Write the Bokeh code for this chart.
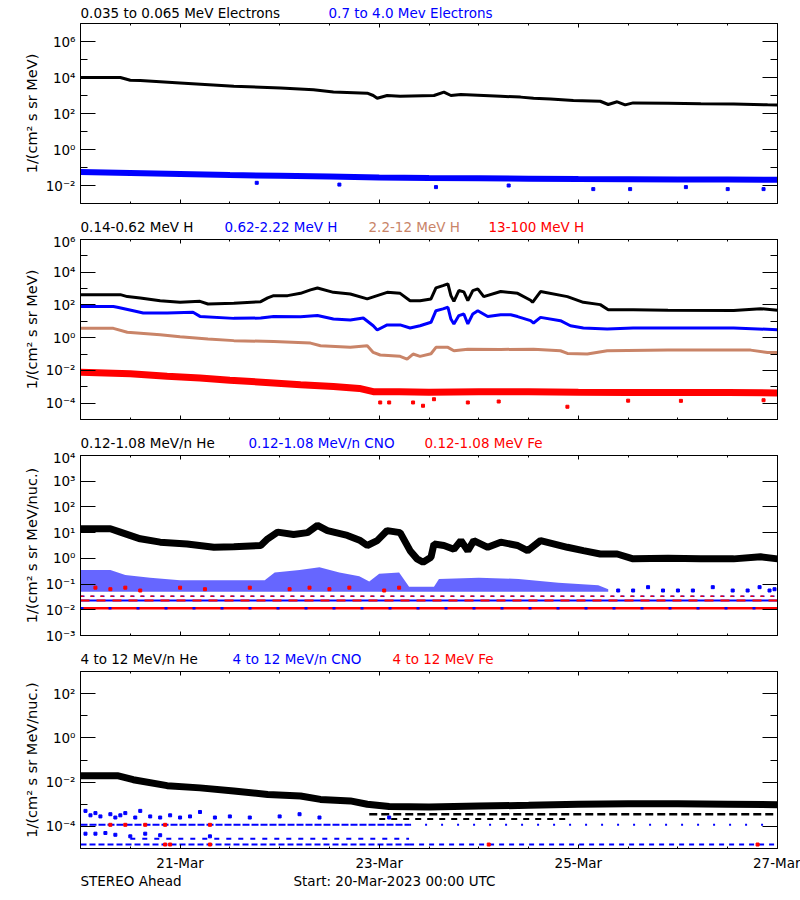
import numpy as np
from bokeh.plotting import figure
from bokeh.models import Range1d, FixedTicker, LogAxis, LinearAxis, CustomJSTickFormatter
from bokeh.core.properties import value
from bokeh.layouts import column
from bokeh.embed import file_html
from bokeh.resources import INLINE

FONT = "DejaVu Sans"
FS = "13.5px"
FS_YLAB = "14.5px"
BLUE = "#0000ff"
RED = "#ff0000"
BROWN = "#c98468"

# ---------------- x axis (days since 20-Mar-2023 00:00 UTC) ----------------
x_tick_days = [1, 3, 5, 7]
x_tick_labels = ["21-Mar", "23-Mar", "25-Mar", "27-Mar"]
x_minor_days = [0.5, 1.5, 2, 2.5, 3.5, 4, 4.5, 5.5, 6, 6.5]

# ---------------- panel 1: electrons ----------------
e_low_t = [0, 0.4, 0.5, 0.6, 1.0, 1.54, 2.01, 2.34, 2.54, 2.88, 2.94, 2.98, 3.08, 3.21, 3.55, 3.65,
           3.72, 3.82, 4.22, 4.42, 4.55, 4.72, 4.95, 5.22, 5.30, 5.39, 5.47, 5.55, 5.90, 6.23, 6.56, 6.90, 7.0]
e_low_log = [4.0, 4.0, 3.85, 3.83, 3.7, 3.52, 3.41, 3.32, 3.19, 3.13, 3.0, 2.85, 3.0, 2.96, 3.0, 3.19,
             3.0, 3.06, 2.96, 2.91, 2.85, 2.8, 2.72, 2.68, 2.5, 2.65, 2.48, 2.59, 2.57, 2.54, 2.53, 2.48, 2.47]
e_high_t = [0, 0.5, 1.0, 1.5, 2.0, 2.5, 3.0, 3.5, 4.0, 4.5, 5.0, 5.5, 6.0, 6.5, 7.0]
e_high_log = [-1.25, -1.3, -1.36, -1.42, -1.46, -1.5, -1.55, -1.58, -1.6, -1.62, -1.64, -1.65, -1.66, -1.67, -1.68]
e_high_out_t = [1.77, 3.57, 5.15, 5.52, 6.08, 6.5, 6.86, 2.6, 4.3]
e_high_out_log = [-1.85, -2.09, -2.2, -2.2, -2.09, -2.2, -2.2, -1.95, -2.0]

# ---------------- panel 2: protons ----------------
h1_t = [0, 0.4, 0.47, 0.6, 0.8, 1.0, 1.2, 1.28, 1.54, 1.81, 1.88, 1.94, 2.08, 2.21, 2.31, 2.38, 2.54, 2.71,
        2.88, 2.98, 3.08, 3.21, 3.31, 3.41, 3.52, 3.57, 3.64, 3.69, 3.72, 3.75, 3.80, 3.85, 3.89, 3.94, 3.99,
        4.05, 4.22, 4.39, 4.52, 4.54, 4.62, 4.89, 5.05, 5.22, 5.30, 5.55, 5.90, 6.56, 6.83, 7.0]
h1_log = [2.63, 2.63, 2.51, 2.43, 2.26, 2.16, 2.22, 2.06, 2.1, 2.2, 2.43, 2.57, 2.57, 2.71, 2.92, 3.04, 2.77, 2.67,
          2.37, 2.57, 2.77, 2.71, 2.26, 2.26, 2.37, 3.04, 3.18, 3.29, 2.57, 2.22, 2.88, 2.8, 2.26, 2.88, 2.98,
          2.51, 2.82, 2.71, 2.29, 2.16, 2.82, 2.51, 2.16, 2.02, 1.71, 1.71, 1.67, 1.66, 1.77, 1.68]
h2_t = [0, 0.33, 0.37, 0.53, 0.63, 0.87, 1.13, 1.2, 1.54, 1.81, 1.94, 2.21, 2.38, 2.54, 2.71, 2.84, 2.94,
        2.98, 3.08, 3.21, 3.31, 3.41, 3.52, 3.57, 3.64, 3.69, 3.72, 3.75, 3.80, 3.85, 3.89, 3.94, 3.99, 4.09,
        4.22, 4.32, 4.39, 4.52, 4.55, 4.62, 4.82, 4.92, 5.05, 5.29, 5.55, 5.90, 6.56, 7.0]
h2_log = [1.9, 1.9, 1.86, 1.65, 1.51, 1.51, 1.55, 1.3, 1.18, 1.2, 1.3, 1.28, 1.35, 1.14, 1.08, 1.2, 0.73,
          0.47, 0.78, 0.78, 0.59, 0.73, 0.94, 1.65, 1.76, 1.86, 1.14, 0.84, 1.35, 1.45, 0.84, 1.45, 1.65, 1.29,
          1.4, 1.4, 1.29, 1.04, 0.9, 1.24, 1.04, 0.73, 0.59, 0.53, 0.59, 0.59, 0.59, 0.49]
h3_t = [0, 0.33, 0.47, 0.8, 1.0, 1.28, 1.54, 1.94, 2.31, 2.41, 2.71, 2.88, 2.94, 3.01, 3.21, 3.28, 3.34,
        3.41, 3.52, 3.57, 3.69, 3.75, 3.89, 4.22, 4.55, 4.82, 4.89, 5.09, 5.29, 5.90, 6.73, 6.90, 7.0]
h3_log = [0.57, 0.57, 0.33, 0.18, 0.06, -0.08, -0.18, -0.24, -0.33, -0.49, -0.59, -0.49, -0.9, -1.06, -1.14,
          -1.31, -1.0, -1.14, -0.98, -0.59, -0.59, -0.8, -0.7, -0.72, -0.7, -0.8, -0.96, -1.0, -0.8, -0.76,
          -0.76, -0.9, -0.9]
h4_t = [0, 0.5, 0.87, 1.2, 1.5, 1.9, 2.21, 2.54, 2.8, 2.94, 3.2, 3.5, 4.0, 4.5, 5.0, 5.5, 6.0, 6.5, 7.0]
h4_log = [-2.12, -2.2, -2.36, -2.47, -2.6, -2.75, -2.88, -2.98, -3.1, -3.3, -3.3, -3.33, -3.3, -3.3, -3.33,
          -3.35, -3.35, -3.35, -3.38]
h4_out_t = [3.01, 3.1, 3.34, 3.44, 3.55, 3.89, 4.89, 6.03, 6.86, 4.2, 5.5]
h4_out_log = [-3.96, -3.96, -3.96, -4.16, -3.76, -3.96, -4.22, -3.86, -3.82, -3.9, -3.85]

# ---------------- panel 3: 0.12-1.08 MeV/n heavy ions ----------------
he1_t = [0, 0.3, 0.4, 0.6, 0.8, 1.07, 1.34, 1.54, 1.81, 1.88, 1.98, 2.14, 2.28, 2.38, 2.48, 2.68, 2.81,
         2.88, 2.98, 3.08, 3.21, 3.31, 3.38, 3.44, 3.52, 3.55, 3.65, 3.75, 3.82, 3.89, 3.95, 4.09, 4.22,
         4.39, 4.49, 4.62, 4.89, 5.05, 5.22, 5.39, 5.55, 5.90, 6.23, 6.56, 6.83, 7.0]
he1_log = [1.15, 1.15, 1.02, 0.76, 0.63, 0.56, 0.43, 0.45, 0.5, 0.76, 1.02, 0.93, 1.0, 1.28, 1.08, 0.89, 0.69,
           0.5, 0.69, 1.08, 1.0, 0.3, -0.02, -0.15, 0.04, 0.56, 0.5, 0.35, 0.69, 0.3, 0.69, 0.43, 0.63,
           0.5, 0.3, 0.69, 0.43, 0.3, 0.17, 0.17, -0.02, 0.0, -0.02, -0.02, 0.06, -0.02]
cno1_t = [0, 0.3, 0.45, 0.7, 1.0, 1.5, 1.85, 1.95, 2.2, 2.4, 2.6, 2.8, 2.9, 3.0, 3.2, 3.3, 3.55, 3.6, 4.0,
          4.4, 4.8, 5.2, 5.3]
cno1_hi_log = [-0.45, -0.45, -0.65, -0.75, -0.85, -0.85, -0.85, -0.55, -0.45, -0.35, -0.55, -0.7, -0.9,
               -0.6, -0.55, -1.1, -1.1, -0.8, -0.75, -0.8, -0.95, -1.05, -1.2]
cno1_lo_log = [-1.3] * 23
cno1_sparse_t = [5.4, 5.55, 5.7, 5.85, 6.0, 6.15, 6.35, 6.55, 6.7, 6.82, 6.92, 6.97]
cno1_sparse_log = [-1.25, -1.25, -1.12, -1.25, -1.25, -1.25, -1.12, -1.25, -1.25, -1.12, -1.25, -1.2]
fe1_pts_t = [0.15, 0.3, 0.45, 0.6, 1.0, 1.25, 1.7, 2.1, 2.3, 2.5, 2.7, 3.05, 3.2]
fe1_pts_log = [-1.14, -1.2, -1.14, -1.25, -1.14, -1.2, -1.14, -1.2, -1.14, -1.2, -1.14, -1.25, -1.14]
# quantised count levels (level, start, end, colour, dash, width)
row3_log = [-1.47, -1.47, -1.64, -1.64, -1.94, -1.94]
row3_t0 = [0, 0, 0, 0, 0, 0]
row3_t1 = [7, 7, 7, 7, 7, 7]
row3_color = [BLUE, RED, BLUE, RED, RED, BLUE]
row3_dash = ["4 6", "3 7", "solid", "9 7", "solid", "3 25"]
row3_width = [1.5, 1.5, 2, 2, 2.5, 2.5]

# ---------------- panel 4: 4-12 MeV/n heavy ions ----------------
he4_t = [0, 0.37, 0.53, 0.87, 1.2, 1.54, 1.88, 2.21, 2.41, 2.71, 2.88, 3.1, 3.5, 4.0, 4.5, 5.0, 5.5, 6.0,
         6.5, 7.0]
he4_log = [-1.71, -1.71, -1.89, -2.16, -2.26, -2.4, -2.56, -2.63, -2.78, -2.85, -3.0, -3.1, -3.12, -3.08,
           -3.05, -3.0, -2.98, -2.98, -3.0, -3.02]
cno4_pts_t = [0.05, 0.1, 0.15, 0.2, 0.3, 0.35, 0.4, 0.45, 0.55, 0.6, 0.7, 0.8, 0.9, 1.0, 1.1, 1.2, 1.35,
              1.5, 1.7, 2.0, 2.2, 2.4, 3.1, 0.05, 0.15, 0.25, 0.35, 0.5, 0.65, 0.8, 1.3]
cno4_pts_log = [-3.3, -3.5, -3.4, -3.55, -3.45, -3.6, -3.5, -3.4, -3.6, -3.3, -3.55, -3.6, -3.5, -3.6,
                -3.55, -3.35, -3.6, -3.55, -3.6, -3.55, -3.45, -3.6, -3.6, -4.33, -4.33, -4.3, -4.38,
                -4.45, -4.33, -4.4, -4.45]
fe4_pts_t = [0.3, 0.45, 0.65, 0.85, 1.3, 0.85, 0.9, 1.3, 4.1, 6.8]
fe4_pts_log = [-3.93, -3.93, -3.93, -3.93, -3.93, -4.82, -4.82, -4.82, -4.82, -4.82]
row4_log = [-3.45, -3.67, -3.93, -3.93, -4.56, -4.82, -4.82]
row4_t0 = [2.9, 3.0, 0.0, 3.3, 0.5, 0.0, 3.3]
row4_t1 = [7.0, 4.9, 3.3, 7.0, 3.3, 3.3, 7.0]
row4_color = ["black", "black", BLUE, BLUE, BLUE, BLUE, BLUE]
row4_dash = ["8 4", "6 6", "7 2", "2 14", "5 7", "6 3", "5 5"]
row4_width = [2.5, 2, 2, 2, 2, 2, 2]

# ---------------- header / footer texts ----------------
title1_text = ["0.035 to 0.065 MeV Electrons", "0.7 to 4.0 Mev Electrons"]
title1_color = ["black", BLUE]
title2_text = ["0.14-0.62 MeV H", "0.62-2.22 MeV H", "2.2-12 MeV H", "13-100 MeV H"]
title2_color = ["black", BLUE, BROWN, RED]
title3_text = ["0.12-1.08 MeV/n He", "0.12-1.08 MeV/n CNO", "0.12-1.08 MeV Fe"]
title3_color = ["black", BLUE, RED]
title4_text = ["4 to 12 MeV/n He", "4 to 12 MeV/n CNO", "4 to 12 MeV Fe"]
title4_color = ["black", BLUE, RED]
footer_text = ["STEREO Ahead", "Start: 20-Mar-2023 00:00 UTC"]
footer_color = ["black", "black"]

SUP_CODE = """
const m = {"-":"\u207b","0":"\u2070","1":"\u00b9","2":"\u00b2","3":"\u00b3","4":"\u2074",
           "5":"\u2075","6":"\u2076","7":"\u2077","8":"\u2078","9":"\u2079"};
const e = Math.round(Math.log10(tick));
let s = "";
for (const c of String(e)) { s += m[c]; }
return "10" + s;
"""

W = 800
LEFT = 80
RIGHT = 23
FRAME_W = W - LEFT - RIGHT


def L(a):
    return 10.0 ** np.asarray(a, dtype=float)


def make_panel(ylo, yhi, major_exp, minor_exp, ylabel, top, bottom, show_x):
    p = figure(width=W, height=top + 180 + bottom, x_range=Range1d(0, 7),
               y_range=Range1d(10.0 ** ylo, 10.0 ** yhi),
               y_axis_type="log", output_backend="svg", toolbar_location=None,
               min_border_left=LEFT, min_border_right=RIGHT, min_border_top=top, min_border_bottom=bottom)
    p.xgrid.visible = False
    p.ygrid.visible = False
    p.outline_line_color = "black"
    p.outline_line_width = 1
    p.background_fill_color = "white"
    p.border_fill_color = "white"

    yt = FixedTicker(ticks=[10.0 ** e for e in major_exp], minor_ticks=[10.0 ** e for e in minor_exp])
    xt = FixedTicker(ticks=x_tick_days, minor_ticks=x_minor_days)
    blank = CustomJSTickFormatter(code="return '';")

    ya = p.yaxis[0]
    ya.ticker = yt
    ya.formatter = CustomJSTickFormatter(code=SUP_CODE)
    ya.major_tick_in = 15
    ya.major_tick_out = 0
    ya.minor_tick_in = 7
    ya.minor_tick_out = 0
    ya.major_label_standoff = 5
    ya.major_label_text_font = FONT
    ya.major_label_text_font_size = FS
    ya.major_label_text_color = "black"
    ya.axis_label = ylabel
    ya.axis_label_text_font = FONT
    ya.axis_label_text_font_size = FS_YLAB
    ya.axis_label_text_font_style = "normal"
    ya.axis_label_text_color = "black"
    ya.axis_label_standoff = 3
    ya.axis_line_color = "black"

    ra = LogAxis(ticker=yt, formatter=blank, major_tick_in=15, major_tick_out=0, minor_tick_in=7,
                 minor_tick_out=0, major_label_standoff=0, major_label_text_font_size="0px",
                 axis_line_color="black")
    p.add_layout(ra, "right")

    xa = p.xaxis[0]
    xa.ticker = xt
    xa.major_tick_in = 4
    xa.major_tick_out = 0
    xa.minor_tick_in = 2
    xa.minor_tick_out = 0
    xa.axis_line_color = "black"
    if show_x:
        xa.formatter = CustomJSTickFormatter(args=dict(xt_vals=x_tick_days, xt_labels=x_tick_labels),
                                             code="const i = xt_vals.indexOf(tick); return i >= 0 ? xt_labels[i] : '';")
        xa.major_label_standoff = 6
        xa.major_label_text_font = FONT
        xa.major_label_text_font_size = FS
        xa.major_label_text_color = "black"
    else:
        xa.formatter = blank
        xa.major_label_standoff = 0
        xa.major_label_text_font_size = "0px"

    ta = LinearAxis(ticker=xt, formatter=blank, major_tick_in=4, major_tick_out=0, minor_tick_in=2,
                    minor_tick_out=0, major_label_standoff=0, major_label_text_font_size="0px",
                    axis_line_color="black")
    p.add_layout(ta, "above")
    return p


def strip(height, texts, colors, xs, baseline):
    s = figure(width=W, height=height, x_range=Range1d(0, FRAME_W), y_range=Range1d(0, height),
               x_axis_type=None, y_axis_type=None, output_backend="svg", toolbar_location=None,
               min_border_left=LEFT, min_border_right=RIGHT, min_border_top=0, min_border_bottom=0)
    s.outline_line_color = None
    s.background_fill_color = "white"
    s.border_fill_color = "white"
    s.text(x=xs, y=[baseline] * len(texts), text=texts, text_color=colors,
           text_font=value(FONT), text_font_size=value(FS), text_baseline="alphabetic", text_align="left")
    return s


def rows(p, lv, t0, t1, col, dash, wid):
    for v, a, b, c, d, w in zip(lv, t0, t1, col, dash, wid):
        p.line([a, b], L([v, v]), line_color=c, line_dash=d, line_width=w)


UNIT1 = "1/(cm\u00b2 s sr MeV)"
UNIT2 = "1/(cm\u00b2 s sr MeV/nuc.)"

s1 = strip(20, title1_text, title1_color, [0, 248], 8)

p1 = make_panel(-3, 7, [-2, 0, 2, 4, 6], [-1, 1, 3, 5], UNIT1, 3, 9, False)
p1.line(e_high_t, L(e_high_log), line_color=BLUE, line_width=6)
p1.scatter(e_high_out_t, L(e_high_out_log), marker="square", size=3, color=BLUE)
p1.line(e_low_t, L(e_low_log), line_color="black", line_width=3)

s2 = strip(21, title2_text, title2_color, [0, 144, 288, 408], 7)

p2 = make_panel(-5, 6, [-4, -2, 0, 2, 4, 6], [-3, -1, 1, 3, 5], UNIT1, 6, 9, False)
p2.line(h4_t, L(h4_log), line_color=RED, line_width=7)
p2.scatter(h4_out_t, L(h4_out_log), marker="square", size=3, color=RED)
p2.line(h3_t, L(h3_log), line_color=BROWN, line_width=3)
p2.line(h2_t, L(h2_log), line_color=BLUE, line_width=3)
p2.line(h1_t, L(h1_log), line_color="black", line_width=3)

s3 = strip(21, title3_text, title3_color, [0, 168, 344], 7)

p3 = make_panel(-3, 4, [-3, -2, -1, 0, 1, 2, 3, 4], [], UNIT2, 6, 9, False)
rows(p3, row3_log, row3_t0, row3_t1, row3_color, row3_dash, row3_width)
p3.varea(x=cno1_t, y1=L(cno1_lo_log), y2=L(cno1_hi_log), fill_color=BLUE, fill_alpha=0.6)
p3.scatter(cno1_sparse_t, L(cno1_sparse_log), marker="square", size=3, color=BLUE)
p3.scatter(fe1_pts_t, L(fe1_pts_log), marker="square", size=3, color=RED)
p3.line(he1_t, L(he1_log), line_color="black", line_width=7)

s4 = strip(21, title4_text, title4_color, [0, 152, 312], 7)

p4 = make_panel(-5, 3, [-4, -2, 0, 2], [-3, -1, 1], UNIT2, 6, 22, True)
rows(p4, row4_log, row4_t0, row4_t1, row4_color, row4_dash, row4_width)
p4.scatter(cno4_pts_t, L(cno4_pts_log), marker="square", size=3, color=BLUE)
p4.scatter(fe4_pts_t, L(fe4_pts_log), marker="square", size=3, color=RED)
p4.line(he4_t, L(he4_log), line_color="black", line_width=7)

s5 = strip(24, footer_text, footer_color, [0, 213], 17)

layout = column(s1, p1, s2, p2, s3, p3, s4, p4, s5, spacing=0)
open("out.html", "w").write(file_html(layout, INLINE))
